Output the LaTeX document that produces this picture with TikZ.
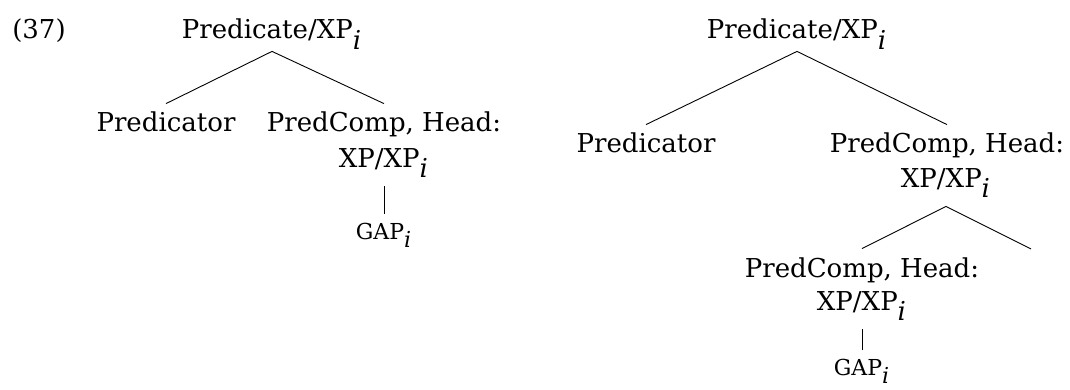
\documentclass[tikz,border=0pt]{standalone}
\usepackage{fontspec}
\setmainfont{DejaVu Serif}
\begin{document}
\begin{tikzpicture}[x=0.5pt,y=-0.5pt,
  lab/.style={font=\fontsize{13}{15}\selectfont, anchor=base, inner sep=4.5pt, text height=9.5pt, text depth=1.5pt},
  xpl/.style={lab, text depth=5pt},
  gapl/.style={font=\fontsize{11}{13}\selectfont, anchor=base, inner sep=4.5pt, text height=8pt, text depth=1.5pt},
  edge/.style={line width=0.45pt}
]
\useasboundingbox (0,0) rectangle (1070,390);
% left tree
\node[lab] (num) at (39,39) {(37)};
\node[lab] (rootL) at (272,39) {Predicate/XP$_{\textit{i}}$};
\node[lab] (predL) at (166,132) {Predicator};
\node[lab] (pcL) at (384,132) {PredComp, Head:};
\node[xpl] (xpL) at (384,167) {XP/XP$_{\textit{i}}$};
\node[gapl] (gapL) at (384,239) {GAP$_{\textit{i}}$};
\draw[edge] (rootL.south) -- (predL.north);
\draw[edge] (rootL.south) -- (pcL.north);
\draw[edge] (xpL.south) -- (gapL.north);
% right tree
\node[lab] (rootR) at (797,39) {Predicate/XP$_{\textit{i}}$};
\node[lab] (predR) at (646,153) {Predicator};
\node[lab] (pcR) at (947,153) {PredComp, Head:};
\node[xpl] (xpR) at (946,187) {XP/XP$_{\textit{i}}$};
\node[lab] (pcR2) at (862,277) {PredComp, Head:};
\node[xpl] (xpR2) at (862,310) {XP/XP$_{\textit{i}}$};
\coordinate (emptyR) at (1031,249);
\node[gapl] (gapR) at (862,375) {GAP$_{\textit{i}}$};
\draw[edge] (rootR.south) -- (predR.north);
\draw[edge] (rootR.south) -- (pcR.north);
\draw[edge] (xpR.south) -- (pcR2.north);
\draw[edge] (xpR.south) -- (emptyR);
\draw[edge] (xpR2.south) -- (gapR.north);
\end{tikzpicture}
\end{document}
